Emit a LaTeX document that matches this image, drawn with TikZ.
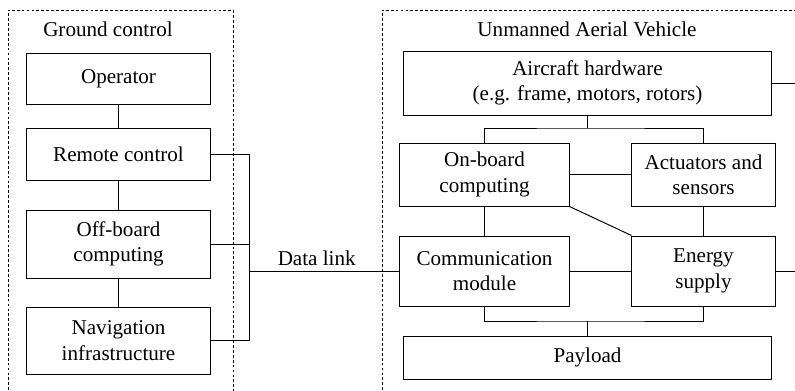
\documentclass[tikz,border=0pt]{standalone}
\usepackage{fontspec}
\setmainfont{Liberation Serif}
\usepackage{tikz}

\begin{document}
\begin{tikzpicture}[x=0.025cm,y=-0.025cm,line width=0.7pt,
  main node/.style={draw,inner sep=0pt,align=center,font=\fontsize{15}{18}\selectfont},
  group/.style={dash pattern=on 2pt off 1.5pt,line width=0.6pt},
  title node/.style={font=\fontsize{15}{18}\selectfont}]

  \useasboundingbox (0,0) rectangle (795,390);
  \clip (0,0) rectangle (795,390);

  \draw[group] (8,395) -- (8,10) -- (233,10) -- (233,395);
  \draw[group] (382,395) -- (382,10) -- (800,10);
  \node[title node] (g) at (108,29) {Ground control};
  \node[title node] (u) at (587,29) {Unmanned Aerial Vehicle};

  \node[main node,minimum width=4.575cm,minimum height=1.275cm] (1) at (118.5,78.5) {Operator};
  \node[main node,minimum width=4.575cm,minimum height=1.3cm] (2) at (118.5,154) {Remote control};
  \node[main node,minimum width=4.575cm,minimum height=1.7cm] (3) at (118.5,244) {Off-board\\computing};
  \node[main node,minimum width=4.575cm,minimum height=1.675cm] (4) at (118.5,340.5) {Navigation\\infrastructure};

  \node[main node,minimum width=9.175cm,minimum height=1.6cm] (5) at (587.5,83) {Aircraft hardware\\(e.g. frame, motors, rotors)};
  \node[main node,minimum width=4.225cm,minimum height=1.575cm] (6) at (484.5,174.5) {On-board\\computing};
  \node[main node,minimum width=3.575cm,minimum height=1.575cm] (7) at (703.5,174.5) {Actuators and\\sensors};
  \node[main node,minimum width=4.225cm,minimum height=1.75cm] (8) at (484.5,271) {Communication\\module};
  \node[main node,minimum width=3.575cm,minimum height=1.75cm] (9) at (703.5,271) {Energy\\supply};
  \node[main node,minimum width=9.175cm,minimum height=1.075cm] (10) at (587.5,357.5) {Payload};

  \coordinate (bus) at (249,271);
  \coordinate (top) at (587.5,128);
  \coordinate (bottom) at (587.5,321);
  \coordinate (r1) at (800,83);
  \coordinate (r2) at (800,271);

  \path
    (1) edge (2)
    (2) edge (3)
    (3) edge (4)
    (6) edge (7)
    (6) edge (8)
    (7) edge (9)
    (8) edge (9)
    (6.south east) edge (9.north west)
    (5.east) edge (r1)
    (9.east) edge (r2)
    (5.south) edge (top)
    (bottom) edge (10.north);

  \draw (2.east) -| (bus);
  \draw (3.east) -| (bus);
  \draw (4.east) -| (bus);
  \draw (bus) -- node[pos=0.45,above,title node] {Data link} (8.west);
  \draw (6.north) |- (top) -| (7.north);
  \draw (8.south) |- (bottom) -| (9.south);
\end{tikzpicture}
\end{document}
